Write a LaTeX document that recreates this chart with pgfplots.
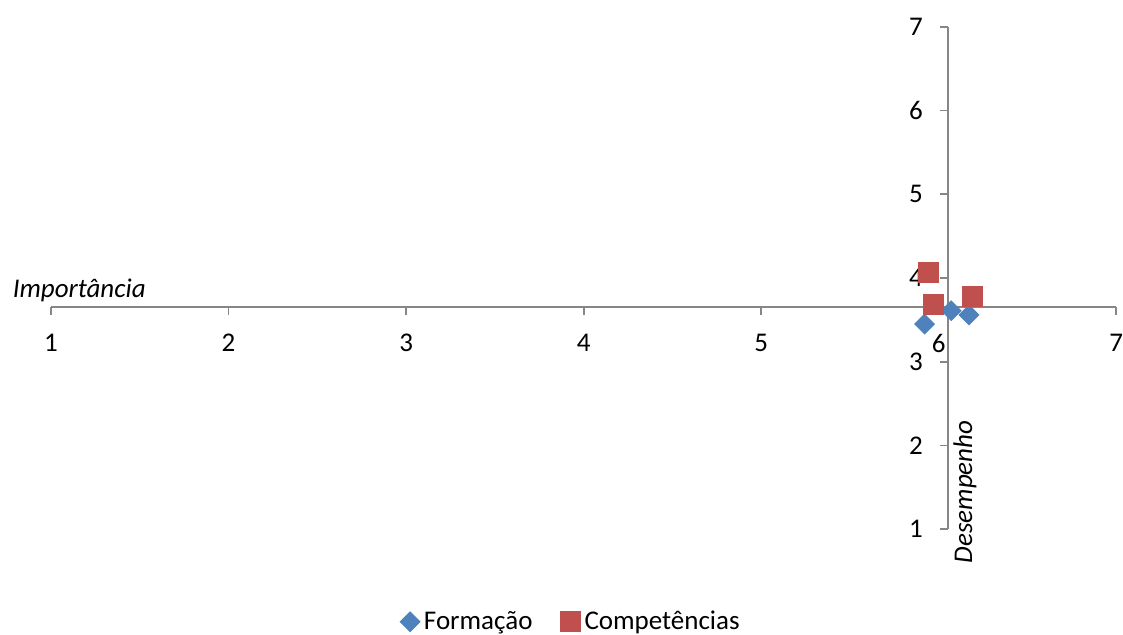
\documentclass[border=0pt]{standalone}
\usepackage{fontspec}
\setmainfont{Carlito}
\usepackage{pgfplots}
\pgfplotsset{compat=1.18}
\definecolor{formblue}{HTML}{4F81BD}
\definecolor{compred}{HTML}{C0504D}
\definecolor{axisgray}{HTML}{868686}
\newcommand{\chartfont}{\fontsize{13.5}{16}\selectfont}

\begin{document}
\begin{tikzpicture}
\path[use as bounding box] (-25.5pt,-52.85pt) rectangle (536pt,264.65pt);
\begin{axis}[
  scale only axis,
  width=532.65pt, height=251.3pt,
  xmin=1, xmax=7, ymin=1, ymax=7,
  axis x line=bottom, axis y line=left,
  axis x line shift=-111.15pt,
  axis y line shift=-448.4pt,
  axis line style={axisgray, line width=0.9pt, -},
  xtick={1,...,7}, ytick={1,...,7},
  tick align=outside,
  major tick length=4pt,
  tick style={axisgray, line width=0.9pt},
  ticklabel style={font=\chartfont, text=black},
  xticklabel style={yshift=-6pt},
  yticklabel style={xshift=-5pt},
  /pgf/number format/assume math mode=true,
  clip=false,
  legend columns=2,
  legend style={draw=none, font=\chartfont,
    at={(0.489,-0.184)}, anchor=center,
    /tikz/every even column/.append style={column sep=12pt}},
]
\addplot[only marks, mark=square*, mark size=3.5pt,
  mark options={rotate=45, fill=formblue, draw=formblue}]
  coordinates {(5.92,3.45) (6.07,3.61) (6.17,3.56)};
\addlegendentry{Formação}
\addplot[only marks, mark=square*, mark size=5pt,
  mark options={fill=compred, draw=compred}]
  coordinates {(5.94,4.07) (5.97,3.68) (6.19,3.78)};
\addlegendentry{Competências}
\node[anchor=base west, font=\chartfont\itshape]
  at ([xshift=-22.65pt, yshift=4.5pt]axis cs:1,3.654) {Importância};
\node[anchor=center, rotate=90, font=\chartfont\itshape]
  at ([xshift=8.6pt]axis cs:6.051,1.446) {Desempenho};
\end{axis}
\end{tikzpicture}
\end{document}
